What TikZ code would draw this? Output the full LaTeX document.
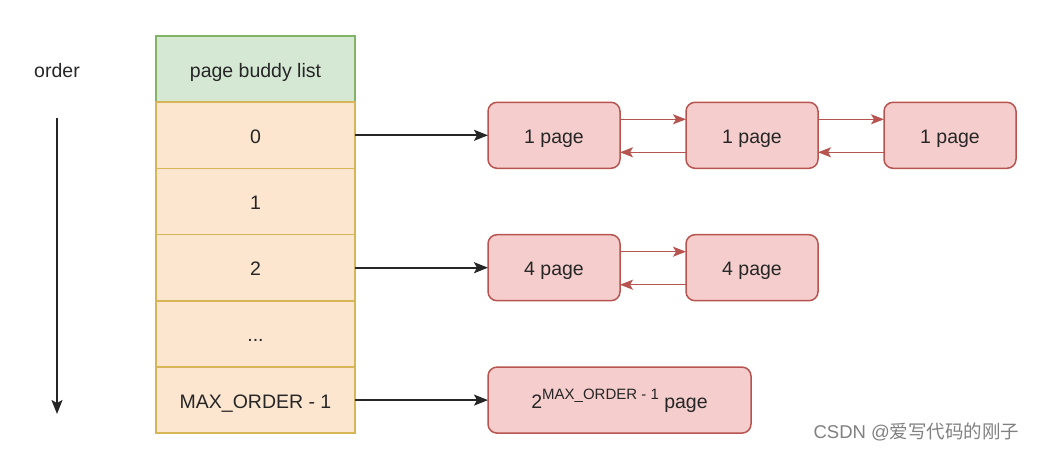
\documentclass[tikz,border=0pt]{standalone}
\usepackage{fontspec}
\setmainfont{Liberation Sans}
\newfontfamily\cjk{Noto Sans CJK SC}
\usetikzlibrary{arrows.meta,positioning}

\definecolor{hdrfill}{HTML}{D5E8D4}
\definecolor{hdrline}{HTML}{82B366}
\definecolor{cellfill}{HTML}{FCE6CF}
\definecolor{cellline}{HTML}{D6B656}
\definecolor{pagefill}{HTML}{F4CDCC}
\definecolor{pageline}{HTML}{B85450}
\newcommand\rowdots{...}

\begin{document}
\begin{tikzpicture}[x=1pt,y=-1pt,
    txt/.style={font=\fontsize{19.5}{23}\selectfont, text=black!85,
        text height=17pt, text depth=1pt},
    cell/.style={txt, draw=cellline, fill=cellfill, line width=1.6pt, outer sep=0pt,
        minimum width=199pt, minimum height=66.2pt, inner sep=0pt},
    pagebox/.style={txt, draw=pageline, fill=pagefill, line width=1.5pt, outer sep=0pt,
        rounded corners=9pt, minimum width=132pt, minimum height=66pt, inner sep=0pt},
    ptr/.style={-{Stealth[length=14pt,width=11pt,inset=3pt]}, line width=1.8pt, black!85},
    link/.style={-{Stealth[length=13pt,width=10pt,inset=3pt]}, line width=1.5pt, pageline}]
    \useasboundingbox (0,0) rectangle (1038,450);

    % Order axis
    \node[txt] (ordlbl) at (57,69) {order};
    \coordinate (ordtop) at (57,118);
    \coordinate (ordbot) at (57,414);
    \draw[ptr] (ordtop) -- (ordbot);

    % Header and free list rows
    \node[cell, draw=hdrline, fill=hdrfill] (hdr) at (255.5,69.1) {page buddy list};
    \foreach \i/\lbl in {0/0, 1/1, 2/2, 3/\rowdots, 4/MAX\_ORDER - 1} {
        \node[cell] (r\i) at (255.5,135.3+66.2*\i) {\lbl}; % Rows
    };

    % Order 0 list
    \node[pagebox, right=133pt of r0] (p0a) {1 page};
    \node[pagebox, right=66pt of p0a] (p0b) {1 page};
    \node[pagebox, right=66pt of p0b] (p0c) {1 page};

    % Order 2 list
    \node[pagebox, right=133pt of r2] (p2a) {4 page};
    \node[pagebox, right=66pt of p2a] (p2b) {4 page};

    % Last order
    \node[pagebox, minimum width=263pt, right=133pt of r4] (p4)
        {2\raisebox{9pt}{\fontsize{15}{17}\selectfont MAX\_ORDER - 1} page};

    % Pointers from the rows
    \draw[ptr] (r0) -- (p0a);
    \draw[ptr] (r2) -- (p2a);
    \draw[ptr] (r4) -- (p4);

    % Links between pages
    \foreach \a/\b in {p0a/p0b, p0b/p0c, p2a/p2b} {
        \draw[link] ([yshift=16pt]\a.east) -- ([yshift=16pt]\b.west);
        \draw[link] ([yshift=-17pt]\b.west) -- ([yshift=-17pt]\a.east);
    };

    % Watermark
    \node[anchor=east, text=black!50, font=\fontsize{18.5}{22}\selectfont] (wmark)
        at (1023,432) {CSDN @{\cjk 爱写代码的刚子}};
\end{tikzpicture}
\end{document}
